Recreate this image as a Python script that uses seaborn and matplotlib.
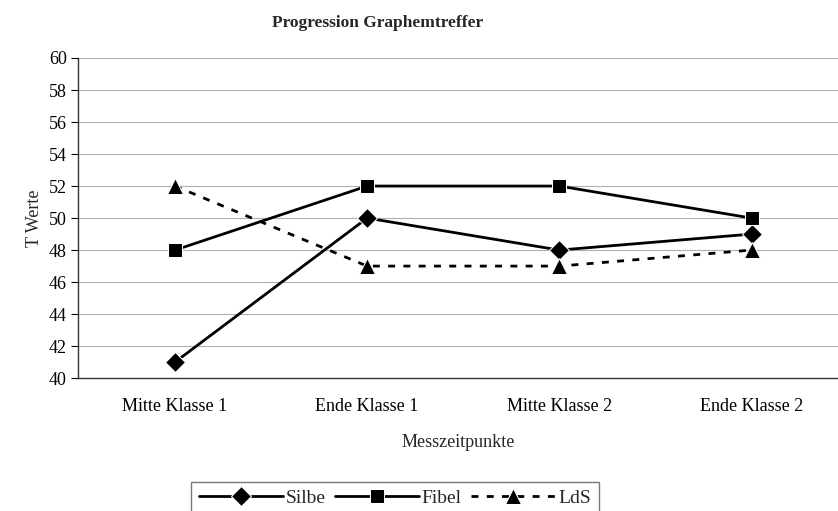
import pandas as pd
import matplotlib.pyplot as plt
import seaborn as sns

# Daten
zeitpunkte = ["Mitte Klasse 1", "Ende Klasse 1", "Mitte Klasse 2", "Ende Klasse 2"]
silbe = [41, 50, 48, 49]
fibel = [48, 52, 52, 50]
lds = [52, 47, 47, 48]

df = pd.DataFrame({
    "Zeitpunkt": zeitpunkte * 3,
    "Pos": list(range(4)) * 3,
    "T": silbe + fibel + lds,
    "Gruppe": ["Silbe"] * 4 + ["Fibel"] * 4 + ["LdS"] * 4,
})

sns.set_style("white")
plt.rcParams["font.family"] = ["Liberation Serif", "DejaVu Serif"]

fig = plt.figure(figsize=(8.38, 5.11), dpi=100)
ax = fig.add_axes([0.093, 0.26, 0.907, 0.6265])

stile = {"Silbe": ("D", "-", 10), "Fibel": ("s", "-", 10.5), "LdS": ("^", (0, (2.5, 3)), 11.5)}
for g, (m, ls, ms) in stile.items():
    sub = df[df["Gruppe"] == g]
    sns.lineplot(data=sub, x="Pos", y="T", ax=ax, color="black", marker=m,
                 markersize=ms, linewidth=2, linestyle=ls, label=g)

ax.set_ylim(40, 60)
ax.set_xlim(-0.505, 3.45)
ax.set_yticks(range(40, 61, 2))
ax.set_xticks(range(4))
ax.set_xticklabels(zeitpunkte)
ax.yaxis.grid(True, color="#b0b0b0", linewidth=0.8)
ax.tick_params(axis="both", labelsize=13, colors="black", length=5, direction="out")
ax.tick_params(axis="x", length=0, pad=14)
ax.tick_params(axis="y", left=True, pad=3)
for s in ["top", "right"]:
    ax.spines[s].set_visible(False)
for s in ["left", "bottom"]:
    ax.spines[s].set_color("#333333")
    ax.spines[s].set_linewidth(1)

ax.set_xlabel("Messzeitpunkte", fontsize=13, labelpad=14)
ax.set_ylabel("T Werte", fontsize=13, labelpad=4)
fig.text(0.45, 0.955, "Progression Graphemtreffer", fontsize=12.5, fontweight="bold",
         ha="center", va="center")

leg = ax.legend(loc="center", bbox_to_anchor=(0.417, -0.375), ncol=3, frameon=True,
                fontsize=14, handlelength=4.3, handletextpad=0.15, columnspacing=0.5,
                fancybox=False, edgecolor="#555555", borderpad=0.4)
leg.get_frame().set_linewidth(1)

plt.savefig("out.png", dpi=100)
